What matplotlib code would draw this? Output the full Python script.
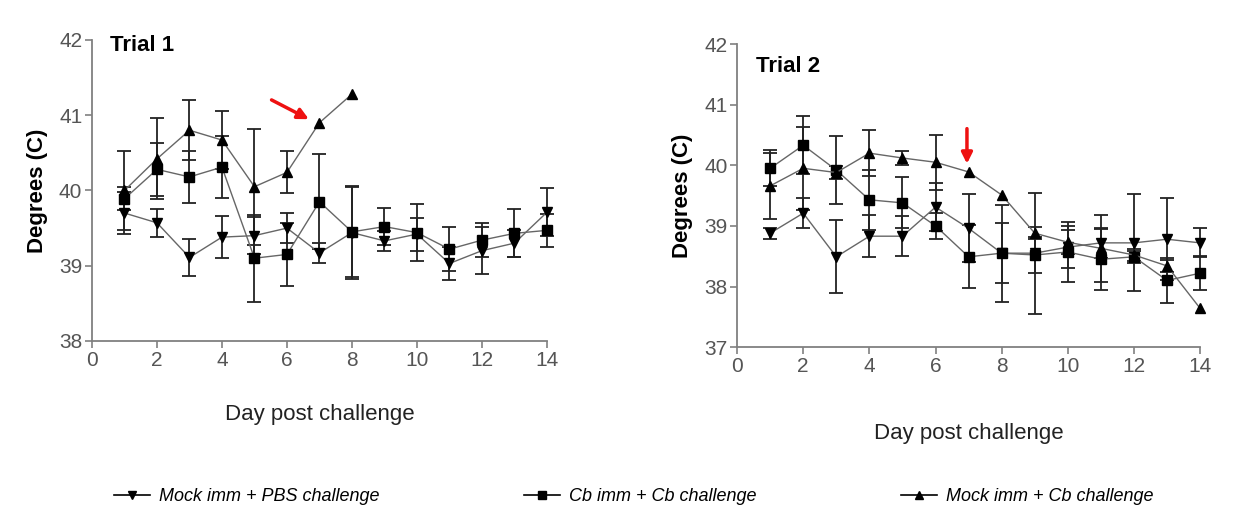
import numpy as np
import matplotlib
matplotlib.use('Agg')
import matplotlib.pyplot as plt

plt.rcParams['font.family'] = ['Liberation Sans', 'DejaVu Sans']

days = np.arange(1, 15)
nan = np.nan

# Trial 1
t1_pbs = [39.70, 39.57, 39.11, 39.38, 39.40, 39.50, 39.17, 39.44, 39.33, 39.42, 39.03, 39.20, 39.30, 39.71]
t1_pbs_err = [0.28, 0.19, 0.24, 0.28, 0.25, 0.20, 0.13, 0.62, 0.13, 0.22, 0.22, 0.31, 0.18, 0.32]
t1_cb = [39.89, 40.28, 40.18, 40.31, 39.10, 39.15, 39.85, 39.45, 39.52, 39.44, 39.22, 39.34, 39.43, 39.47]
t1_cb_err = [0.15, 0.35, 0.34, 0.41, 0.58, 0.42, 0.63, 0.60, 0.25, 0.38, 0.29, 0.23, 0.32, 0.22]
t1_mock_days = [1, 2, 3, 4, 5, 6, 7, 8]
t1_mock = [40.00, 40.42, 40.80, 40.67, 40.05, 40.24, 40.90, 41.28]
t1_mock_err = [0.52, 0.54, 0.40, 0.38, 0.77, 0.28, nan, nan]

# Trial 2
t2_pbs = [38.88, 39.21, 38.49, 38.83, 38.83, 39.31, 38.96, 38.55, 38.55, 38.65, 38.72, 38.72, 38.78, 38.72]
t2_pbs_err = [0.09, 0.25, 0.60, 0.35, 0.33, 0.40, 0.56, 0.80, 1.00, 0.35, 0.25, 0.80, 0.68, 0.24]
t2_cb = [39.95, 40.33, 39.92, 39.43, 39.38, 39.00, 38.49, 38.55, 38.52, 38.57, 38.45, 38.49, 38.10, 38.22]
t2_cb_err = [0.30, 0.48, 0.56, 0.50, 0.42, 0.22, 0.52, 0.50, 0.30, 0.50, 0.50, 0.10, 0.37, 0.28]
t2_mock = [39.66, 39.95, 39.88, 40.20, 40.12, 40.05, 39.89, 39.51, 38.88, 38.73, 38.63, 38.52, 38.34, 37.64]
t2_mock_err = [0.55, 0.68, 0.10, 0.38, 0.12, 0.45, nan, nan, 0.10, 0.20, 0.55, 0.10, 0.10, nan]

labels = ['Mock imm + PBS challenge', 'Cb imm + Cb challenge', 'Mock imm + Cb challenge']
markers = ['v', 's', '^']

fig = plt.figure(figsize=(12.43, 5.12), dpi=100)
ax1 = fig.add_axes([0.074, 0.334, 0.366, 0.588])
ax2 = fig.add_axes([0.593, 0.322, 0.3725, 0.592])


def draw_series(ax, x, y, err, marker):
    ax.errorbar(x, y, yerr=err, color='#666666', lw=1.0, marker=marker, ms=7.5,
                mfc='black', mec='black', ecolor='#222222', elinewidth=1.3,
                capsize=5, capthick=1.3, clip_on=False)


def style_axes(ax, ylim, title, title_y, xpad):
    ax.set_xlim(0, 14)
    ax.set_ylim(*ylim)
    ax.set_xticks(range(0, 15, 2))
    ax.set_yticks(range(ylim[0], ylim[1] + 1))
    for s in ['top', 'right']:
        ax.spines[s].set_visible(False)
    for s in ['left', 'bottom']:
        ax.spines[s].set_color('#808080')
        ax.spines[s].set_linewidth(1.3)
    ax.tick_params(direction='out', length=5, width=1.2, color='#808080',
                   labelsize=15, labelcolor='#555555', pad=2)
    ax.set_xlabel('Day post challenge', fontsize=16, color='#222222', labelpad=xpad)
    ax.set_ylabel('Degrees (C)', fontsize=16, fontweight='bold', labelpad=8)
    ax.text(0.04, title_y, title, transform=ax.transAxes, fontsize=16,
            fontweight='bold', va='top')


t1 = [(days, t1_pbs, t1_pbs_err), (days, t1_cb, t1_cb_err), (t1_mock_days, t1_mock, t1_mock_err)]
t2 = [(days, t2_pbs, t2_pbs_err), (days, t2_cb, t2_cb_err), (days, t2_mock, t2_mock_err)]

for (x, y, e), m in zip(t1, markers):
    draw_series(ax1, x, y, e, m)
for (x, y, e), m in zip(t2, markers):
    draw_series(ax2, x, y, e, m)

style_axes(ax1, (38, 42), 'Trial 1', 1.015, 25)
style_axes(ax2, (37, 42), 'Trial 2', 0.96, 34)

ax1.annotate('', xy=(6.75, 40.93), xytext=(5.45, 41.22),
             arrowprops=dict(arrowstyle='-|>', color='#ee1111', lw=2.5, mutation_scale=16))
ax2.annotate('', xy=(6.95, 39.98), xytext=(6.95, 40.65),
             arrowprops=dict(arrowstyle='-|>', color='#ee1111', lw=2.5, mutation_scale=16))

handles = [plt.Line2D([], [], color='black', lw=1.2, marker=m, ms=6) for m in markers]
fig.legend(handles, labels, loc='center', bbox_to_anchor=(0.51, 0.03), ncol=3,
           frameon=False, handlelength=2.0, handletextpad=0.5, columnspacing=8.0,
           prop={'style': 'italic', 'size': 13})

fig.savefig('out.png', dpi=100, facecolor='white')
